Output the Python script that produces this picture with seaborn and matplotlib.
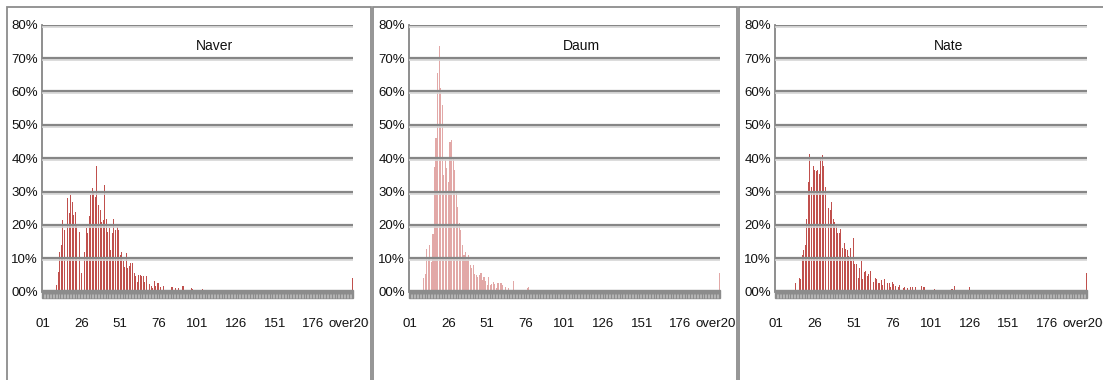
import pandas as pd
import matplotlib
matplotlib.use("Agg")
import matplotlib.pyplot as plt
from matplotlib.patches import Rectangle
import seaborn as sns

# categories 01..200 plus the open-ended last bin
categories = [f"{i:02d}" for i in range(1, 201)] + ["over200"]
tick_pos = [0, 25, 50, 75, 100, 125, 150, 175, 200]
tick_labels = ["01", "26", "51", "76", "101", "126", "151", "176", "over200"]
y_ticks = [0, 10, 20, 30, 40, 50, 60, 70, 80]
y_labels = ["00%", "10%", "20%", "30%", "40%", "50%", "60%", "70%", "80%"]

naver = [
    0, 0, 0, 0, 0, 0, 0.5, 0, 0.3, 2.0,
    6.0, 12.0, 14.0, 21.5, 18.5, 24.5, 28.0, 23.5, 29.0, 27.0,
    23.0, 24.0, 20.0, 0, 18.0, 5.6, 12.0, 12.0, 19.0, 17.6,
    22.7, 29.0, 31.0, 30.0, 28.5, 37.7, 26.0, 24.5, 21.0, 21.6,
    32.0, 21.8, 18.0, 19.0, 12.5, 17.5, 21.8, 18.4, 19.3, 18.5,
    11.0, 12.0, 9.3, 7.3, 11.7, 7.0, 7.8, 8.5, 8.5, 5.7,
    4.6, 2.8, 4.9, 4.9, 4.8, 4.7, 2.8, 4.8, 1.1, 2.3,
    1.6, 1.1, 3.3, 1.8, 2.5, 2.7, 1.3, 0.3, 1.8, 0.6,
    0.2, 0.6, 0.2, 1.5, 1.3, 0.6, 1.2, 0.3, 1.2, 0.6,
    1.6, 1.7, 0.6, 0.5, 0.3, 0.3, 1.2, 0.7, 0.5, 0.2,
    0.4, 0.4, 0.5, 0.7, 0.5, 0.3, 0.2, 0.3, 0.3, 0.2,
    0.3, 0, 0.2, 0.5, 0, 0.3, 0.2, 0, 0.3, 0,
    0.2, 0.3, 0, 0.3, 0, 0.2, 0, 0.3, 0, 0.3,
    0, 0, 0.3, 0, 0.3, 0, 0.3, 0, 0.3, 0.3,
    0.3, 0.2, 0.5, 0, 0.3, 0, 0, 0, 0.3, 0,
    0, 0.5, 0, 0, 0, 0, 0, 0, 0.3, 0,
    0, 0, 0, 0, 0.3, 0, 0, 0, 0, 0,
    0, 0, 0, 0, 0, 0, 0, 0, 0, 0.3,
    0, 0, 0, 0, 0.3, 0, 0, 0, 0, 0,
    0, 0, 0, 0, 0, 0.3, 0, 0, 0, 0,
    4.0,
]

daum = [
    0, 0, 0.4, 0, 0.4, 0, 0, 0, 0, 4.2,
    5.4, 12.7, 10.0, 14.0, 9.0, 17.4, 37.5, 46.0, 65.5, 73.7,
    61.0, 56.0, 35.0, 39.5, 37.0, 33.0, 45.0, 45.5, 40.0, 36.5,
    30.0, 25.5, 20.5, 18.5, 14.0, 11.0, 12.0, 9.5, 11.0, 8.0,
    7.0, 8.0, 5.4, 5.0, 4.5, 5.0, 5.5, 3.5, 4.5, 3.2,
    2.0, 4.4, 2.0, 2.2, 2.8, 2.3, 1.0, 2.7, 0.6, 2.6,
    1.9, 0.6, 1.5, 0.6, 1.1, 0.6, 0, 3.3, 0.5, 0.5,
    0, 0, 0.2, 0.2, 0, 0, 1.1, 1.5, 0, 0.3,
    0.2, 0, 0.2, 0.6, 0.6, 0.6, 0, 0.2, 0, 0,
    0, 0, 0, 0, 0.6, 0, 0.6, 0, 0, 0,
    0, 0, 0.3, 0.5, 0.6, 0, 0.5, 0, 0, 0,
    0.2, 0, 0, 0.2, 0, 0.2, 0, 0, 0.2, 0,
    0.2, 0.5, 0, 0.2, 0, 0.2, 0, 0, 0, 0,
    0.2, 0.2, 0, 0.2, 0, 0, 0, 0, 0.2, 0,
    0.2, 0, 0, 0, 0, 0, 0, 0, 0, 0,
    0.3, 0, 0, 0.2, 0, 0, 0, 0, 0, 0,
    0, 0, 0, 0, 0, 0, 0, 0, 0, 0,
    0, 0, 0, 0, 0, 0, 0, 0, 0, 0,
    0, 0.3, 0, 0, 0, 0, 0, 0, 0, 0,
    0, 0, 0.2, 0, 0, 0.2, 0, 0, 0, 0,
    5.5,
]

nate = [
    0, 0, 0, 0, 0, 0, 0.4, 0, 0, 0.4,
    0, 0, 0.4, 2.7, 0, 4.2, 3.7, 11.0, 12.4, 14.0,
    21.7, 33.0, 41.4, 31.4, 37.8, 36.6, 36.3, 36.6, 35.4, 40.0,
    40.9, 37.6, 31.4, 30.1, 25.0, 24.4, 27.0, 21.7, 21.0, 20.0,
    17.7, 17.7, 18.9, 13.2, 14.7, 12.7, 12.5, 10.7, 13.2, 9.2,
    16.2, 8.2, 8.2, 4.2, 7.2, 9.2, 3.9, 5.9, 6.2, 4.7,
    5.4, 6.2, 8.7, 2.9, 4.2, 3.9, 2.7, 2.7, 3.4, 1.9,
    3.9, 1.5, 2.7, 2.7, 1.5, 2.9, 2.4, 1.7, 0.6, 1.3,
    2.0, 0.4, 1.1, 1.3, 0.6, 1.0, 0.6, 1.3, 1.3, 0.6,
    1.3, 0.6, 0.6, 0.6, 1.7, 1.3, 1.3, 0.6, 0.3, 0.5,
    1.3, 0.5, 0.8, 0.5, 0.6, 0.3, 0.6, 0.5, 0, 0.5,
    0.5, 0, 0, 0.8, 0.8, 1.8, 0.6, 0.3, 0, 0.3,
    0.5, 0, 0, 0, 0, 1.5, 0, 0, 0, 0.3,
    0, 0, 0, 0.3, 0, 0, 0.3, 0, 0, 0.3,
    0, 0, 0.3, 0, 0, 0, 0.6, 0, 0, 0.3,
    0, 0, 0.3, 0, 0, 0, 0, 0, 0.3, 0,
    0, 0.3, 0, 0, 0, 0, 0.6, 0, 0.3, 0,
    0, 0, 0.3, 0, 0, 0.3, 0, 0, 0.3, 0,
    0, 0, 0.3, 0, 0, 0, 0, 0, 0, 0.3,
    0, 0, 0, 0.3, 0, 0, 0, 0.3, 0.6, 0,
    5.5,
]

panels = [
    ("Naver", naver, "#c0504d", 1.0, 0.62, 42, 353, (6.5, 370.5)),
    ("Daum", daum, "#d06e6c", 0.6, 0.75, 409, 720, (372.5, 736.5)),
    ("Nate", nate, "#c0504d", 1.0, 0.62, 775, 1087, (739, 1112)),
]

W, H = 1103, 380
GRAY = "#868686"

sns.set_style("white")
plt.rcParams["font.family"] = ["Liberation Sans", "DejaVu Sans"]

fig = plt.figure(figsize=(W / 100, H / 100), dpi=100)

for name, values, color, alpha, bw, left, right, (bx0, bx1) in panels:
    # chart frame
    fig.add_artist(Rectangle((bx0 / W, 1 - 400 / H), (bx1 - bx0) / W, (400 - 6.5) / H,
                             transform=fig.transFigure, fill=False,
                             ec="#8c8c8c", lw=1.3))

    ax = fig.add_axes([left / W, 1 - 291.7 / H, (right - left) / W, 267 / H])
    df = pd.DataFrame({"cat": categories, "pct": values})
    sns.barplot(data=df, x="cat", y="pct", order=categories, color=color,
                saturation=1, width=bw, alpha=alpha, linewidth=0,
                edgecolor=color, ax=ax, zorder=2)

    ax.set_ylim(0, 80)
    ax.set_xlim(-0.5, len(categories) - 0.5)
    ax.set_xlabel("")
    ax.set_ylabel("")

    # excel-ish gridlines: dark line with a light shadow under it
    for v in y_ticks[1:]:
        ax.axhline(v, color=GRAY, lw=1.6, zorder=3)
        ax.axhline(v - 0.6, color="#d6d6d6", lw=1.2, zorder=2.9)

    # category axis drawn as a grey band with little marks
    ax.axhspan(-1.9, 0.4, color="#8c8c8c", zorder=4, clip_on=False)
    ax.vlines([i + 0.5 for i in range(len(categories) - 1)], -1.8, -0.7,
              color="#bdbdbd", lw=0.6, zorder=5, clip_on=False)

    ax.set_yticks(y_ticks)
    ax.set_yticklabels(y_labels)
    ax.set_xticks(tick_pos)
    ax.set_xticklabels(tick_labels)
    ax.tick_params(axis="y", length=2, width=1.2, color=GRAY, pad=1,
                   labelsize=9.5, labelcolor="#111111")
    ax.tick_params(axis="x", length=0, pad=19, labelsize=9.5, labelcolor="#111111")
    clip = Rectangle((bx0 / W, 0), (bx1 - bx0 - 2) / W, 1, transform=fig.transFigure)
    for lab in ax.get_xticklabels():
        lab.set_clip_path(clip)

    for side in ["top", "right", "bottom"]:
        ax.spines[side].set_visible(False)
    ax.spines["left"].set_color(GRAY)
    ax.spines["left"].set_linewidth(1.3)

    ax.text(0.556, 0.921, name, transform=ax.transAxes, ha="center", va="center",
            fontsize=10, color="#111111")

fig.savefig("out.png", dpi=100)
